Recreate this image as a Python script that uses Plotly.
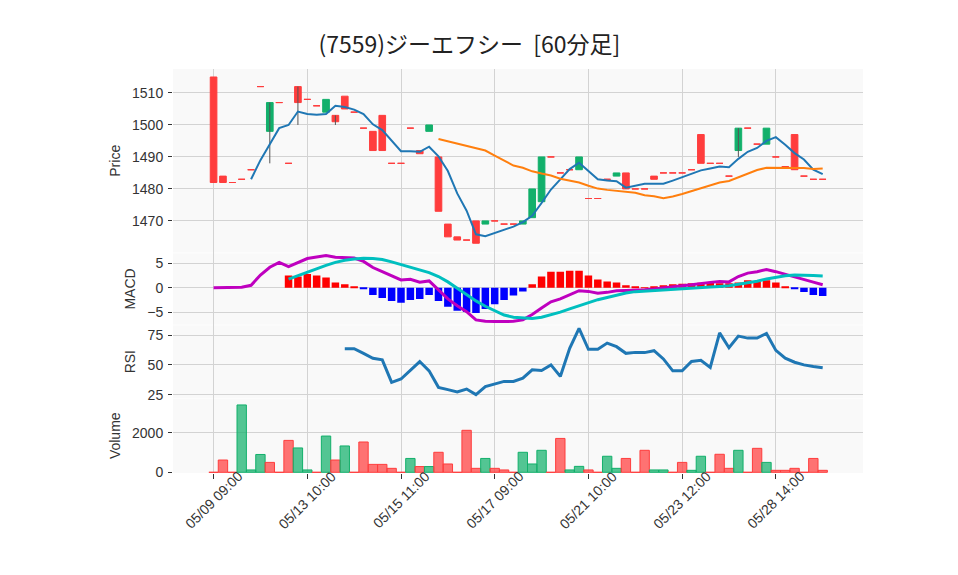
import numpy as np
import plotly.graph_objects as go
from plotly.subplots import make_subplots

title_text = "(7559)ジーエフシー  [60分足]"

# trading hours per day (60-minute bars)
day_hours = [
    ("05/09", [9, 10, 11, 13, 14]),
    ("05/10", [9, 10, 11, 13, 14]),
    ("05/13", [10, 11, 12, 13, 14]),
    ("05/14", [9, 10, 11, 13, 14]),
    ("05/15", [11, 12, 13, 14]),
    ("05/16", [9, 10, 11, 12, 13, 14]),
    ("05/17", [9, 10, 11, 13, 14]),
    ("05/20", [9, 10, 11, 13, 14]),
    ("05/21", [10, 11, 13, 14]),
    ("05/22", [9, 10, 11, 13, 14]),
    ("05/23", [11, 12, 13, 14]),
    ("05/24", [9, 10, 11, 13, 14]),
    ("05/27", [10, 13]),
    ("05/28", [14]),
    ("05/29", [9, 10, 11, 13, 14]),
]
labels = [f"{d} {h:02d}:00" for d, hs in day_hours for h in hs]
tick_labels = ["05/09 09:00", "05/13 10:00", "05/15 11:00", "05/17 09:00",
               "05/21 10:00", "05/23 12:00", "05/28 14:00"]

open_ = [1515, 1484, 1482, 1483, 1486, 1512, 1498, 1507, 1488, 1512,
         1508, 1506, 1504, 1503, 1509, 1504, 1499, 1498, 1503, 1488,
         1488, 1499, 1492, 1498, 1490, 1469, 1465, 1464, 1470, 1469,
         1470, 1469, 1469, 1469, 1471, 1476, 1490, 1485, 1486, 1486,
         1477, 1477, 1483, 1484, 1485, 1480, 1480, 1484, 1485, 1485,
         1485, 1486, 1497, 1488, 1488, 1484, 1492, 1499, 1494, 1494,
         1490, 1487, 1497, 1484, 1483, 1483]
close = [1482, 1482, 1482, 1483, 1486, 1512, 1507, 1507, 1488, 1507,
         1508, 1506, 1508, 1501, 1505, 1504, 1499, 1492, 1492, 1488,
         1488, 1499, 1491, 1500, 1473, 1465, 1464, 1464, 1463, 1470,
         1470, 1469, 1469, 1470, 1480, 1490, 1490, 1485, 1486, 1490,
         1477, 1477, 1483, 1485, 1480, 1480, 1480, 1483, 1485, 1485,
         1485, 1486, 1488, 1488, 1488, 1484, 1499, 1499, 1494, 1499,
         1490, 1487, 1486, 1484, 1483, 1483]
high = [1515, 1484, 1482, 1483, 1486, 1512, 1507, 1507, 1488, 1512,
        1508, 1506, 1508, 1503, 1509, 1504, 1499, 1498, 1503, 1488,
        1488, 1499, 1492, 1500, 1490, 1469, 1465, 1464, 1470, 1470,
        1470, 1469, 1469, 1470, 1480, 1490, 1490, 1485, 1486, 1490,
        1477, 1477, 1483, 1485, 1485, 1480, 1480, 1484, 1485, 1485,
        1485, 1486, 1497, 1488, 1488, 1484, 1499, 1499, 1494, 1499,
        1490, 1487, 1497, 1484, 1483, 1483]
low = [1482, 1482, 1482, 1483, 1486, 1512, 1488, 1507, 1488, 1500,
       1508, 1506, 1504, 1500, 1505, 1504, 1499, 1492, 1492, 1488,
       1488, 1499, 1491, 1498, 1473, 1465, 1464, 1464, 1463, 1469,
       1470, 1469, 1469, 1469, 1471, 1476, 1490, 1485, 1486, 1486,
       1477, 1477, 1483, 1484, 1480, 1480, 1480, 1483, 1485, 1485,
       1485, 1486, 1488, 1488, 1488, 1484, 1490, 1499, 1494, 1494,
       1490, 1487, 1486, 1484, 1483, 1483]

ma5 = [None] * 4 + [
    1483.0, 1489.0, 1494.0, 1499.0, 1500.0, 1504.2, 1503.4, 1503.2, 1503.4, 1506.0,
    1505.6, 1504.8, 1503.4, 1500.2, 1498.4, 1495.0, 1491.8, 1491.8, 1491.6, 1493.2,
    1490.2, 1485.6, 1478.6, 1473.2, 1465.8, 1465.2, 1466.2, 1467.2, 1468.2, 1469.6,
    1471.6, 1475.6, 1479.8, 1483.0, 1486.2, 1488.2, 1485.6, 1483.0, 1482.6, 1482.4,
    1480.4, 1481.0, 1481.6, 1481.6, 1481.6, 1482.6, 1483.6, 1484.8, 1485.8, 1486.4,
    1487.0, 1486.8, 1489.4, 1491.6, 1492.8, 1495.0, 1496.2, 1493.8, 1491.2, 1489.2,
    1486.0, 1484.6]
ma25 = [None] * 24 + [
    1495.6, 1494.9, 1494.2, 1493.5, 1492.7, 1492.0, 1490.4, 1488.8, 1487.3, 1486.6,
    1485.5, 1484.8, 1484.2, 1483.2, 1482.6, 1482.0, 1481.0, 1480.1, 1479.7, 1479.4,
    1479.1, 1478.8, 1478.0, 1477.7, 1477.1, 1477.6, 1478.4, 1479.3, 1480.2, 1481.2,
    1482.0, 1482.5, 1483.7, 1484.9, 1485.9, 1486.6, 1486.6, 1486.5, 1486.6, 1486.5,
    1486.2, 1486.4]

macd = [0, 0, 0, 0.1, 0.5, 2.6, 4.2, 5.2, 4.35, 5.2,
        6.0, 6.3, 6.6, 6.25, 6.25, 6.1, 5.4, 4.15, 3.3, 2.45,
        1.6, 1.75, 1.15, 1.4, -0.4, -2.3, -3.7, -4.9, -6.6, -6.9,
        -6.95, -6.95, -6.9, -6.6, -5.5, -4.15, -2.9, -2.3, -1.5, -0.6,
        -0.75, -1.15, -0.95, -0.6, -0.55, -0.55, -0.4, -0.27, 0.0, 0.14,
        0.4, 0.6, 0.9, 1.1, 1.3, 1.2, 2.3, 3.0, 3.3, 3.75,
        3.3, 2.8, 2.3, 1.8, 1.15, 0.6]
signal = [None] * 8 + [
    1.75, 2.45,
    3.3, 3.95, 4.6, 5.2, 5.65, 5.9, 6.05, 6.0, 5.8, 5.3,
    4.75, 4.2, 3.7, 3.1, 2.3, 1.2, -0.1, -1.4, -2.7, -3.8,
    -4.7, -5.6, -6.05, -6.25, -6.3, -6.05, -5.6, -5.0, -4.35, -3.7,
    -3.0, -2.45, -2.0, -1.5, -1.1, -0.8, -0.7, -0.6, -0.5, -0.4,
    -0.27, -0.14, 0.0, 0.14, 0.27, 0.4, 0.7, 0.95, 1.35, 1.8,
    2.2, 2.45, 2.6, 2.6, 2.5, 2.4]
hist = [None] * 8 + [
    2.5, 2.3,
    2.8, 2.5, 2.1, 1.1, 0.7, 0.27, -0.27, -1.5, -2.1, -2.7,
    -3.1, -2.5, -2.3, -1.5, -2.7, -3.9, -4.7, -5.0, -5.2, -4.35,
    -3.4, -2.5, -1.6, -0.75, 0.7, 2.3, 3.3, 3.3, 3.5, 3.5,
    2.5, 1.7, 1.3, 1.1, 0.5, 0.27, 0.05, 0.27, 0.5, 0.7,
    0.8, 0.9, 1.0, 1.0, 0.9, 0.9, 1.1, 1.55, 1.3, 1.55,
    1.1, 0.27, -0.27, -0.9, -1.5, -1.7]
rsi = [None] * 14 + [
    63.6, 63.6, 59.7, 55.6, 54.2, 35.3,
    38.1, 45.8, 52.8, 45.0, 31.1, 29.2, 27.2, 29.7, 25.0, 31.7,
    33.9, 36.1, 36.1, 38.9, 45.8, 45.3, 50.0, 40.3, 63.9, 80.6,
    63.1, 63.1, 68.3, 65.3, 59.7, 60.5, 60.3, 61.9, 55.0, 45.0,
    45.0, 52.8, 53.9, 47.8, 76.9, 64.4, 74.2, 72.5, 72.5, 76.4,
    62.2, 55.6, 52.2, 50.0, 48.6, 47.5]

volume = [0, 620, 0, 3400, 120, 900, 500, 0, 1610, 1230,
          120, 0, 1830, 620, 1330, 0, 1530, 400, 400, 200,
          0, 700, 290, 290, 1010, 420, 0, 2120, 200, 700,
          200, 120, 0, 1010, 420, 1110, 0, 1710, 120, 300,
          120, 0, 810, 200, 700, 0, 1110, 120, 120, 0,
          500, 100, 810, 0, 910, 200, 1110, 0, 1210, 500,
          100, 100, 200, 0, 700, 100]
vol_up = [0, 0, 0, 1, 1, 1, 0, 0, 0, 1,
          1, 0, 1, 0, 1, 0, 0, 0, 0, 0,
          0, 1, 0, 1, 0, 0, 0, 0, 0, 1,
          0, 0, 0, 1, 1, 1, 0, 0, 1, 1,
          0, 0, 1, 1, 0, 0, 0, 1, 1, 0,
          0, 1, 1, 0, 0, 0, 1, 0, 0, 1,
          0, 0, 0, 0, 0, 0]

# ---------------- styling ----------------
GREEN = "#12b06b"
RED = "#ff3d3d"
GREEN_V = "rgba(18,176,107,0.72)"
RED_V = "rgba(255,61,61,0.72)"
GRID = "#d3d3d3"
BG = "#f9f9f9"
FONT = "Liberation Sans, Arial, sans-serif"
TXT = "#333333"

fig = make_subplots(rows=4, cols=1, shared_xaxes=True, vertical_spacing=0.002,
                    row_heights=[2.5, 1, 1, 1])

o = np.array(open_, dtype=float)
c = np.array(close, dtype=float)
h = np.array(high, dtype=float)
l = np.array(low, dtype=float)
body_hi = np.maximum(o, c)
body_lo = np.minimum(o, c)
up = c > o

# wicks
wx, wy = [], []
for i, lab in enumerate(labels):
    if h[i] > body_hi[i] or l[i] < body_lo[i]:
        wx += [lab, lab, None]
        wy += [l[i], h[i], None]
fig.add_trace(go.Scatter(x=wx, y=wy, mode="lines", line=dict(color="#555555", width=1),
                         hoverinfo="skip", showlegend=False), row=1, col=1)

for mask, col in ((up, GREEN), (~up, RED)):
    idx = np.where(mask)[0]
    fig.add_trace(go.Candlestick(
        x=[labels[i] for i in idx], open=o[idx], high=body_hi[idx], low=body_lo[idx], close=c[idx],
        increasing=dict(line=dict(color=col, width=1), fillcolor=col),
        decreasing=dict(line=dict(color=col, width=1), fillcolor=col),
        whiskerwidth=0, showlegend=False), row=1, col=1)

fig.add_trace(go.Scatter(x=labels, y=ma5, mode="lines", line=dict(color="#1f77b4", width=2),
                         showlegend=False), row=1, col=1)
fig.add_trace(go.Scatter(x=labels, y=ma25, mode="lines", line=dict(color="#ff7f0e", width=2),
                         showlegend=False), row=1, col=1)

# MACD
hist_colors = ["#ff0000" if (v is not None and v >= 0) else "#0000ff" for v in hist]
fig.add_trace(go.Bar(x=labels, y=hist, marker=dict(color=hist_colors, line=dict(width=0)),
                     width=0.8, showlegend=False), row=2, col=1)
fig.add_trace(go.Scatter(x=labels, y=macd, mode="lines", line=dict(color="#bf00bf", width=3),
                         showlegend=False), row=2, col=1)
fig.add_trace(go.Scatter(x=labels, y=signal, mode="lines", line=dict(color="#00bfbf", width=3),
                         showlegend=False), row=2, col=1)

# RSI
fig.add_trace(go.Scatter(x=labels, y=rsi, mode="lines", line=dict(color="#1f77b4", width=3),
                         showlegend=False), row=3, col=1)

# Volume
vcol = [GREEN_V if u else RED_V for u in vol_up]
vline = [GREEN if u else RED for u in vol_up]
fig.add_trace(go.Bar(x=labels, y=volume, marker=dict(color=vcol, line=dict(color=vline, width=1)),
                     width=1.0, showlegend=False), row=4, col=1)

for r in range(1, 5):
    fig.update_xaxes(row=r, col=1, type="category", categoryorder="array", categoryarray=labels,
                     range=[-4.33, 69.3], tickmode="array", tickvals=tick_labels, ticktext=tick_labels,
                     showgrid=True, gridcolor=GRID, gridwidth=1, zeroline=False, showline=False,
                     showticklabels=False, ticks="outside" if r == 4 else "",
                     ticklen=5, tickcolor=TXT, rangeslider=dict(visible=False))

# x tick labels centred on their ticks, rotated 45 degrees
for lab in tick_labels:
    fig.add_annotation(x=lab, xref="x4", y=-0.067, yref="paper", text=lab, showarrow=False,
                       textangle=-45, xanchor="center", yanchor="middle",
                       font=dict(size=14, color=TXT, family=FONT))

yax_common = dict(showgrid=True, gridcolor=GRID, gridwidth=1, zeroline=False, showline=False,
                  ticks="outside", ticklen=4, tickcolor=TXT, tickfont=dict(size=14),
                  ticklabelstandoff=2, title_font=dict(size=14), title_standoff=8)
fig.update_yaxes(row=1, col=1, range=[1460.1, 1517.5], tickvals=[1470, 1480, 1490, 1500, 1510],
                 title_text="Price", **yax_common)
fig.update_yaxes(row=2, col=1, range=[-7.57, 7.06], tickvals=[-5, 0, 5],
                 title_text="MACD", **yax_common)
fig.update_yaxes(row=3, col=1, range=[22.2, 83.2], tickvals=[25, 50, 75],
                 title_text="RSI", **yax_common)
fig.update_yaxes(row=4, col=1, range=[-35, 3727], tickvals=[0, 2000],
                 title_text="Volume", **yax_common)

fig.update_layout(
    yaxis=dict(domain=[0.5457, 1.0]),
    yaxis2=dict(domain=[0.3673, 0.5437]),
    yaxis3=dict(domain=[0.1858, 0.3654]),
    yaxis4=dict(domain=[0.0, 0.1845]),
)

fig.update_layout(
    template="none",
    width=958, height=575,
    margin=dict(l=173, r=95, t=69, b=102, pad=0),
    paper_bgcolor="white", plot_bgcolor=BG,
    font=dict(family=FONT, size=14, color=TXT),
    title=dict(text=title_text, x=0.49, xanchor="center", y=0.921, yanchor="middle",
               xref="container", yref="container",
               font=dict(family="Noto Sans CJK JP, sans-serif", size=23, color="#222222")),
    showlegend=False, hovermode=False,
    boxgap=0.29, boxgroupgap=0.0, bargap=0.2,
)

fig.write_html("out.html", config={"displayModeBar": False},
               post_script="document.body.style.margin='0px';document.body.style.padding='0px';")
